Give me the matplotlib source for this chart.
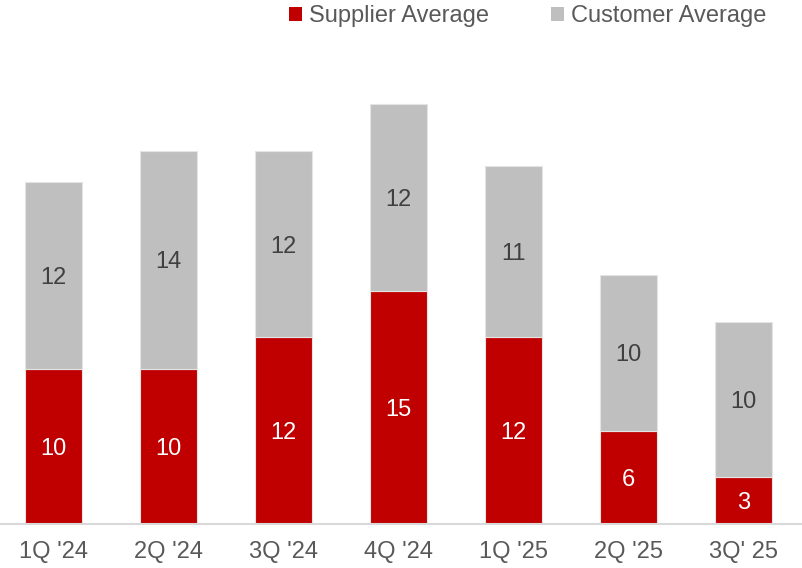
import matplotlib
matplotlib.use("Agg")
import matplotlib.pyplot as plt
from matplotlib.patches import Patch

plt.rcParams['font.family'] = ['Liberation Sans', 'DejaVu Sans']

quarters = ["1Q '24", "2Q '24", "3Q '24", "4Q '24", "1Q '25", "2Q '25", "3Q' 25"]
supplier_avg = [10, 10, 12, 15, 12, 6, 3]
customer_avg = [12, 14, 12, 12, 11, 10, 10]

RED = '#C00000'
GRAY = '#BFBFBF'
EDGE = '#E4E4E4'

fig = plt.figure(figsize=(8.02, 5.68), dpi=100)
ax = fig.add_axes([0, 44 / 568, 1, 524 / 568])

x = list(range(len(quarters)))
width = 0.5
ax.bar(x, supplier_avg, width=width, color=RED, edgecolor=EDGE, linewidth=0.8,
       label='Supplier Average', zorder=2)
ax.bar(x, customer_avg, width=width, bottom=supplier_avg, color=GRAY,
       edgecolor=EDGE, linewidth=0.8, label='Customer Average', zorder=2)

fs = 17
for xi, s, c in zip(x, supplier_avg, customer_avg):
    ax.text(xi, s / 2, f"{s}", ha='center', va='center_baseline', color='white',
            fontsize=fs, zorder=3)
    ax.text(xi, s + c / 2, f"{c}", ha='center', va='center_baseline',
            color='#404040', fontsize=fs, zorder=3)

ax.set_xlim(-0.465, 6.507)
ax.set_ylim(0, 524 / 15.55)
ax.set_xticks(x)
ax.set_xticklabels(quarters, fontsize=fs, color='#595959')
ax.tick_params(axis='x', length=0, pad=12.5)
ax.set_yticks([])
for side in ('top', 'right', 'left'):
    ax.spines[side].set_visible(False)
ax.spines['bottom'].set_color('#D9D9D9')
ax.spines['bottom'].set_linewidth(1.5)

handles = [Patch(facecolor=RED, edgecolor='none'),
           Patch(facecolor=GRAY, edgecolor='none')]
fig.legend(handles, ['Supplier Average', 'Customer Average'],
           loc='center right', bbox_to_anchor=(766 / 802, 1 - 16 / 568), ncol=2,
           frameon=False, fontsize=fs, labelcolor='#595959',
           handlelength=0.55, handleheight=0.55, handletextpad=0.3,
           columnspacing=2.6, borderaxespad=0, borderpad=0)

fig.savefig('out.png', dpi=100)
